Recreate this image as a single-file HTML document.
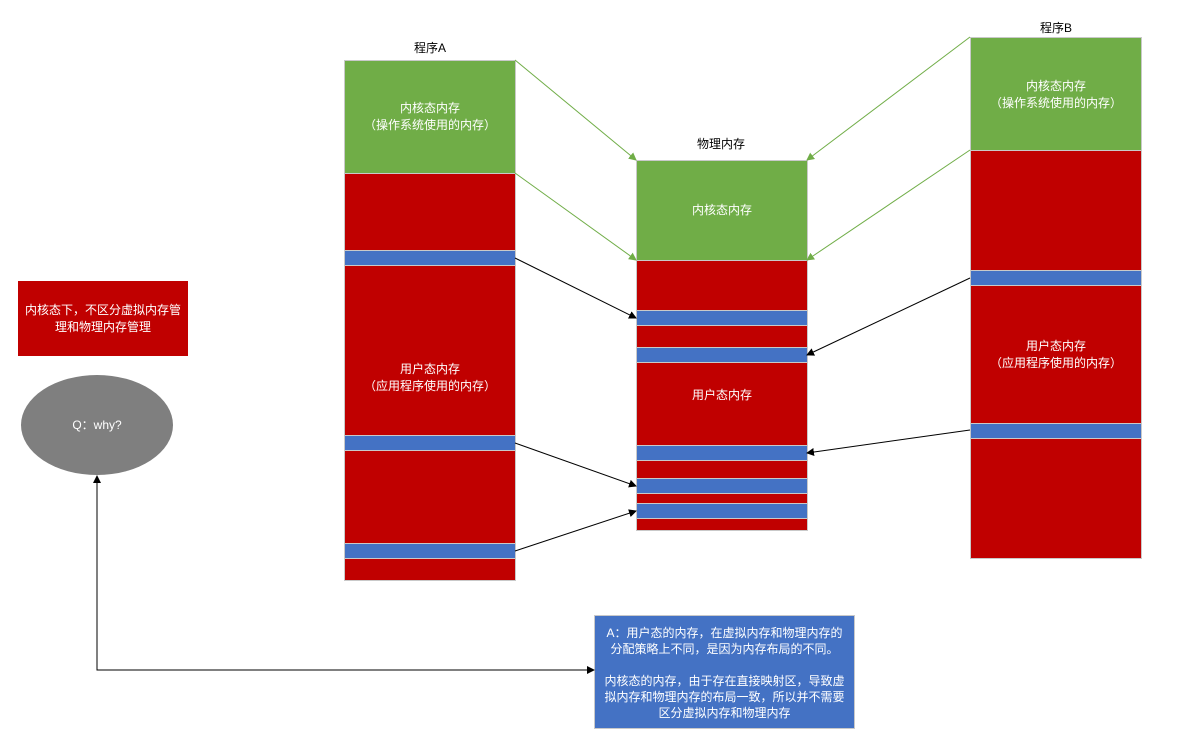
<!DOCTYPE html>
<html><head><meta charset="utf-8"><style>
body{margin:0;width:1179px;height:739px;background:#fff;position:relative;overflow:hidden;font-family:"Liberation Sans","Noto Sans CJK SC",sans-serif;}
.b{position:absolute;box-sizing:border-box;border:1px solid #c9c9c9;}
.g{background:#70ad47}.r{background:#c00000}.u{background:#4472c4}
.t{position:absolute;color:#fff;font-size:12px;text-align:center;line-height:17px;}
.l{position:absolute;font-size:12px;color:#000;}
</style></head><body>
<div class="l" style="left:414px;top:39px">程序A</div>
<div class="l" style="left:697px;top:135px">物理内存</div>
<div class="l" style="left:1040px;top:19px">程序B</div>

<div class="b g" style="left:344px;top:60px;width:172px;height:114px"></div>
<div class="b r" style="left:344px;top:173px;width:172px;height:78px"></div>
<div class="b u" style="left:344px;top:250px;width:172px;height:16px"></div>
<div class="b r" style="left:344px;top:265px;width:172px;height:171px"></div>
<div class="b u" style="left:344px;top:435px;width:172px;height:16px"></div>
<div class="b r" style="left:344px;top:450px;width:172px;height:94px"></div>
<div class="b u" style="left:344px;top:543px;width:172px;height:16px"></div>
<div class="b r" style="left:344px;top:558px;width:172px;height:23px"></div>
<div class="t" style="left:344px;top:100px;width:172px">内核态内存<br>（操作系统使用的内存）</div>
<div class="t" style="left:344px;top:361px;width:172px">用户态内存<br>（应用程序使用的内存）</div>

<div class="b g" style="left:636px;top:160px;width:172px;height:101px"></div>
<div class="b r" style="left:636px;top:260px;width:172px;height:51px"></div>
<div class="b u" style="left:636px;top:310px;width:172px;height:16px"></div>
<div class="b r" style="left:636px;top:325px;width:172px;height:23px"></div>
<div class="b u" style="left:636px;top:347px;width:172px;height:16px"></div>
<div class="b r" style="left:636px;top:362px;width:172px;height:84px"></div>
<div class="b u" style="left:636px;top:445px;width:172px;height:16px"></div>
<div class="b r" style="left:636px;top:460px;width:172px;height:19px"></div>
<div class="b u" style="left:636px;top:478px;width:172px;height:16px"></div>
<div class="b r" style="left:636px;top:493px;width:172px;height:11px"></div>
<div class="b u" style="left:636px;top:503px;width:172px;height:16px"></div>
<div class="b r" style="left:636px;top:518px;width:172px;height:13px"></div>
<div class="t" style="left:636px;top:202px;width:172px">内核态内存</div>
<div class="t" style="left:636px;top:387px;width:172px">用户态内存</div>

<div class="b g" style="left:970px;top:37px;width:172px;height:114px"></div>
<div class="b r" style="left:970px;top:150px;width:172px;height:121px"></div>
<div class="b u" style="left:970px;top:270px;width:172px;height:16px"></div>
<div class="b r" style="left:970px;top:285px;width:172px;height:139px"></div>
<div class="b u" style="left:970px;top:423px;width:172px;height:16px"></div>
<div class="b r" style="left:970px;top:438px;width:172px;height:121px"></div>
<div class="t" style="left:970px;top:78px;width:172px">内核态内存<br>（操作系统使用的内存）</div>
<div class="t" style="left:970px;top:338px;width:172px">用户态内存<br>（应用程序使用的内存）</div>

<div class="b r" style="left:18px;top:281px;width:170px;height:75px;border-color:#c00000"></div>
<div class="t" style="left:18px;top:302px;width:170px">内核态下，不区分虚拟内存管<br>理和物理内存管理</div>

<div style="position:absolute;left:21px;top:375px;width:152px;height:100px;border-radius:50%;background:#7f7f7f"></div>
<div class="t" style="left:21px;top:417px;width:152px">Q：why?</div>

<div class="b u" style="left:594px;top:615px;width:261px;height:114px"></div>
<div class="t" style="left:594px;top:625px;width:261px;line-height:16px">A：用户态的内存，在虚拟内存和物理内存的<br>分配策略上不同，是因为内存布局的不同。<br><br>内核态的内存，由于存在直接映射区，导致虚<br>拟内存和物理内存的布局一致，所以并不需要<br>区分虚拟内存和物理内存</div>

<svg width="1179" height="739" style="position:absolute;left:0;top:0">
<defs>
<marker id="ag" markerWidth="8" markerHeight="8" refX="7" refY="4" orient="auto" markerUnits="userSpaceOnUse"><path d="M0,0L8,4L0,8z" fill="#70ad47"/></marker>
<marker id="ak" markerWidth="8" markerHeight="8" refX="7" refY="4" orient="auto" markerUnits="userSpaceOnUse"><path d="M0,0L8,4L0,8z" fill="#000"/></marker>
<marker id="as" markerWidth="8" markerHeight="8" refX="1" refY="4" orient="auto" markerUnits="userSpaceOnUse"><path d="M8,0L0,4L8,8z" fill="#000"/></marker>
</defs>
<g stroke="#70ad47" stroke-width="1" fill="none" marker-end="url(#ag)">
<line x1="515" y1="60" x2="636" y2="160"/>
<line x1="515" y1="173" x2="636" y2="260"/>
<line x1="970" y1="37" x2="807" y2="160"/>
<line x1="970" y1="150" x2="807" y2="260"/>
</g>
<g stroke="#000" stroke-width="1" fill="none" marker-end="url(#ak)">
<line x1="515" y1="258" x2="636" y2="318"/>
<line x1="515" y1="443" x2="636" y2="486"/>
<line x1="515" y1="551" x2="636" y2="511"/>
<line x1="970" y1="278" x2="807" y2="355"/>
<line x1="970" y1="430" x2="807" y2="453"/>
<polyline points="594,670 97,670 97,476" marker-start="url(#as)"/>
</g>
</svg>
</body></html>
